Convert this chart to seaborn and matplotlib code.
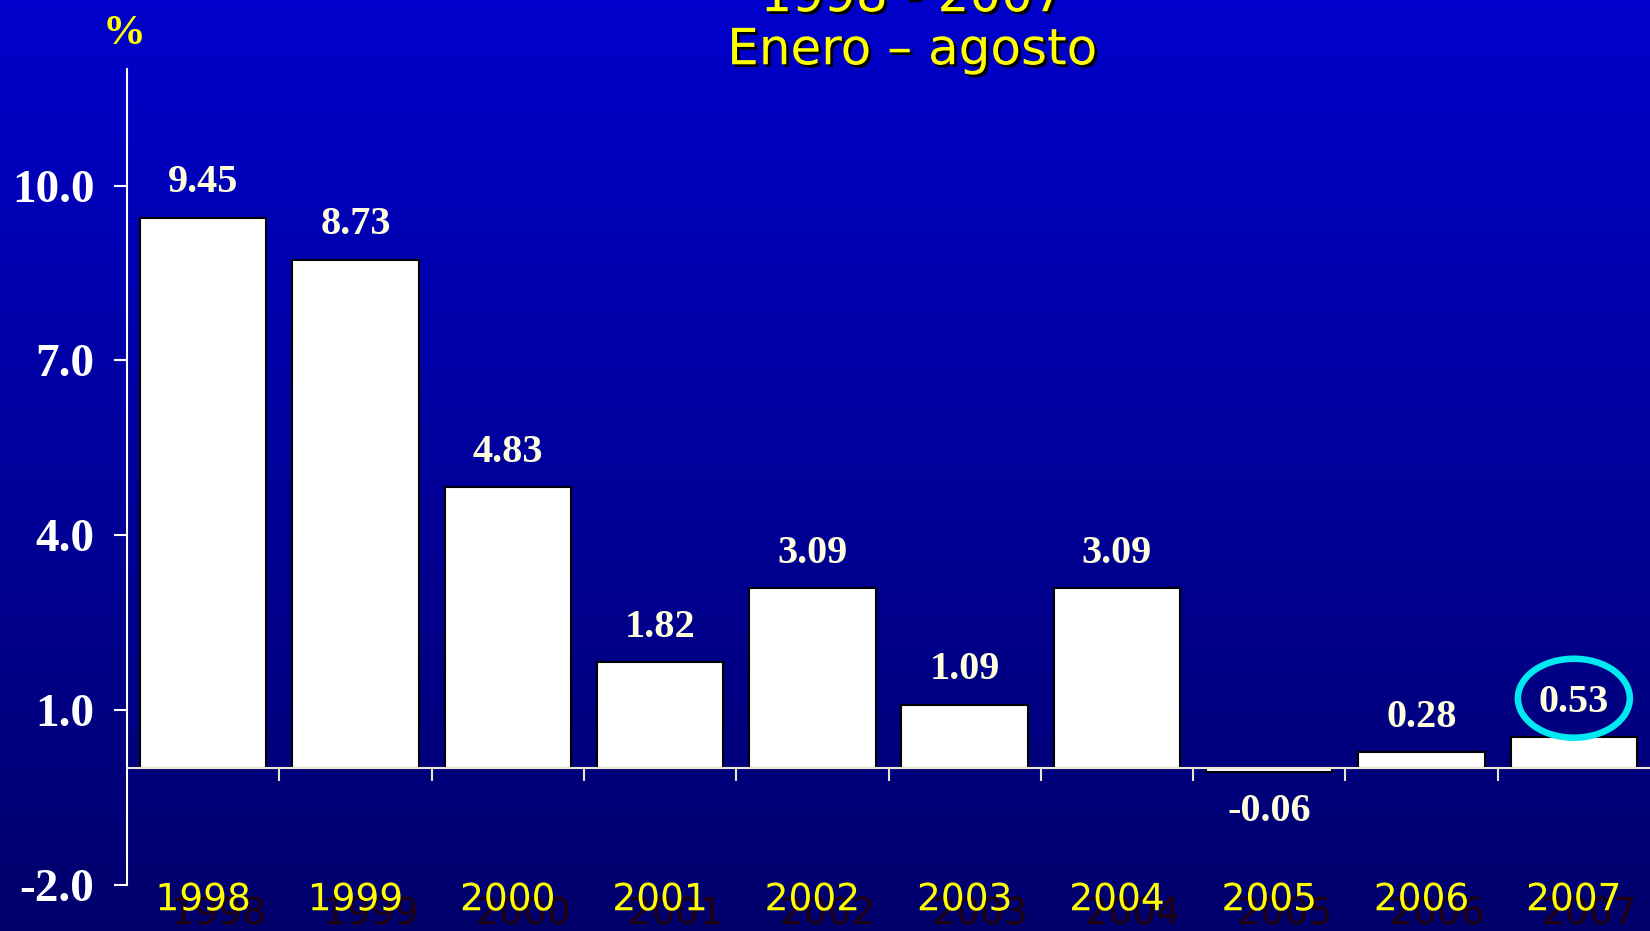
import numpy as np
import pandas as pd
import seaborn as sns
import matplotlib.pyplot as plt
import matplotlib.patheffects as pe
from matplotlib.patches import Ellipse
from matplotlib.transforms import blended_transform_factory

# datos: crecimiento (%) enero-agosto
years = ["1998", "1999", "2000", "2001", "2002", "2003", "2004", "2005", "2006", "2007"]
values = [9.45, 8.73, 4.83, 1.82, 3.09, 1.09, 3.09, -0.06, 0.28, 0.53]
yticks = [-2.0, 1.0, 4.0, 7.0, 10.0]
title_lines = ["1998 - 2007", "Enero \u2013 agosto"]
highlight = "2007"

df = pd.DataFrame({"Año": years, "Valor": values})

sns.set_style("ticks")
plt.rcParams["font.family"] = ["DejaVu Sans"]

fig = plt.figure(figsize=(16.5, 9.31), dpi=100)

# fondo degradado azul
bg = fig.add_axes([0, 0, 1, 1], zorder=-1)
grad = np.linspace(0, 1, 256).reshape(-1, 1)
top = np.array([0.0, 0.0, 0.80])
bottom = np.array([0.0, 0.0, 0.42])
img = top[None, None, :] * (1 - grad[:, :, None]) + bottom[None, None, :] * grad[:, :, None]
bg.imshow(img, aspect="auto", extent=[0, 1, 0, 1])
bg.axis("off")

ax = fig.add_axes([0.077, 0.0498, 0.923, 0.876])
ax.set_facecolor("none")

sns.barplot(data=df, x="Año", y="Valor", color="white", saturation=1,
            edgecolor="black", linewidth=1.5, width=0.83, ax=ax)

ax.set_xlim(-0.5, len(years) - 0.5)
ax.set_ylim(-2, 12)
ax.set_xlabel("")
ax.set_ylabel("")

ax.spines["top"].set_visible(False)
ax.spines["right"].set_visible(False)
ax.spines["left"].set_color("white")
ax.spines["left"].set_linewidth(1.5)
ax.spines["bottom"].set_position(("data", 0))
ax.spines["bottom"].set_color("#E8E8D0")
ax.spines["bottom"].set_linewidth(1.5)

ax.set_yticks(yticks)
ax.set_yticklabels([f"{t:.1f}" for t in yticks],
                   fontfamily="Liberation Serif", fontweight="bold")
ax.tick_params(axis="y", colors="white", labelsize=34, length=9.5, width=1.5, pad=14)

ax.set_xticks(np.arange(len(years) - 1) + 0.5)
ax.set_xticklabels([""] * (len(years) - 1))
ax.tick_params(axis="x", colors="#E8E8D0", length=9.5, width=1.5, direction="out")

# etiquetas de valor
for i, v in enumerate(values):
    ax.annotate(f"{v:.2f}", (i, v), xytext=(0, 25 if v >= 0 else -29),
                textcoords="offset points", ha="center", va="center",
                color="#FFFFDD", fontsize=29, fontweight="bold",
                fontfamily="Liberation Serif")

# óvalo resaltando 2007
hi = years.index(highlight)
ax.add_patch(Ellipse((hi, values[hi] + 0.67), 0.735, 1.355, fill=False,
                     edgecolor="#00E8F0", linewidth=4.7, clip_on=False, zorder=5))

# años en amarillo con sombra
shadow = [pe.SimplePatchShadow(offset=(11, -10), shadow_rgbFace="#1E0010", alpha=1.0), pe.Normal()]
trans = blended_transform_factory(ax.transData, fig.transFigure)
for i, y in enumerate(years):
    ax.text(i, 0.033, y, transform=trans, ha="center", va="center",
            color="#FFFF00", fontsize=27, path_effects=shadow, clip_on=False)

# título y unidad
tshadow = [pe.SimplePatchShadow(offset=(2, -2), shadow_rgbFace="black", alpha=1.0), pe.Normal()]
fig.text(0.553, 1.003, title_lines[0], ha="center", va="center", color="#FFFF00",
         fontsize=36, path_effects=tshadow)
fig.text(0.553, 0.946, title_lines[1], ha="center", va="center", color="#FFFF00",
         fontsize=36, path_effects=tshadow)
fig.text(0.075, 0.964, "%", ha="center", va="center", color="#FFFF00",
         fontsize=31, fontweight="bold", fontfamily="Liberation Serif")

fig.savefig("out.png", dpi=100)
